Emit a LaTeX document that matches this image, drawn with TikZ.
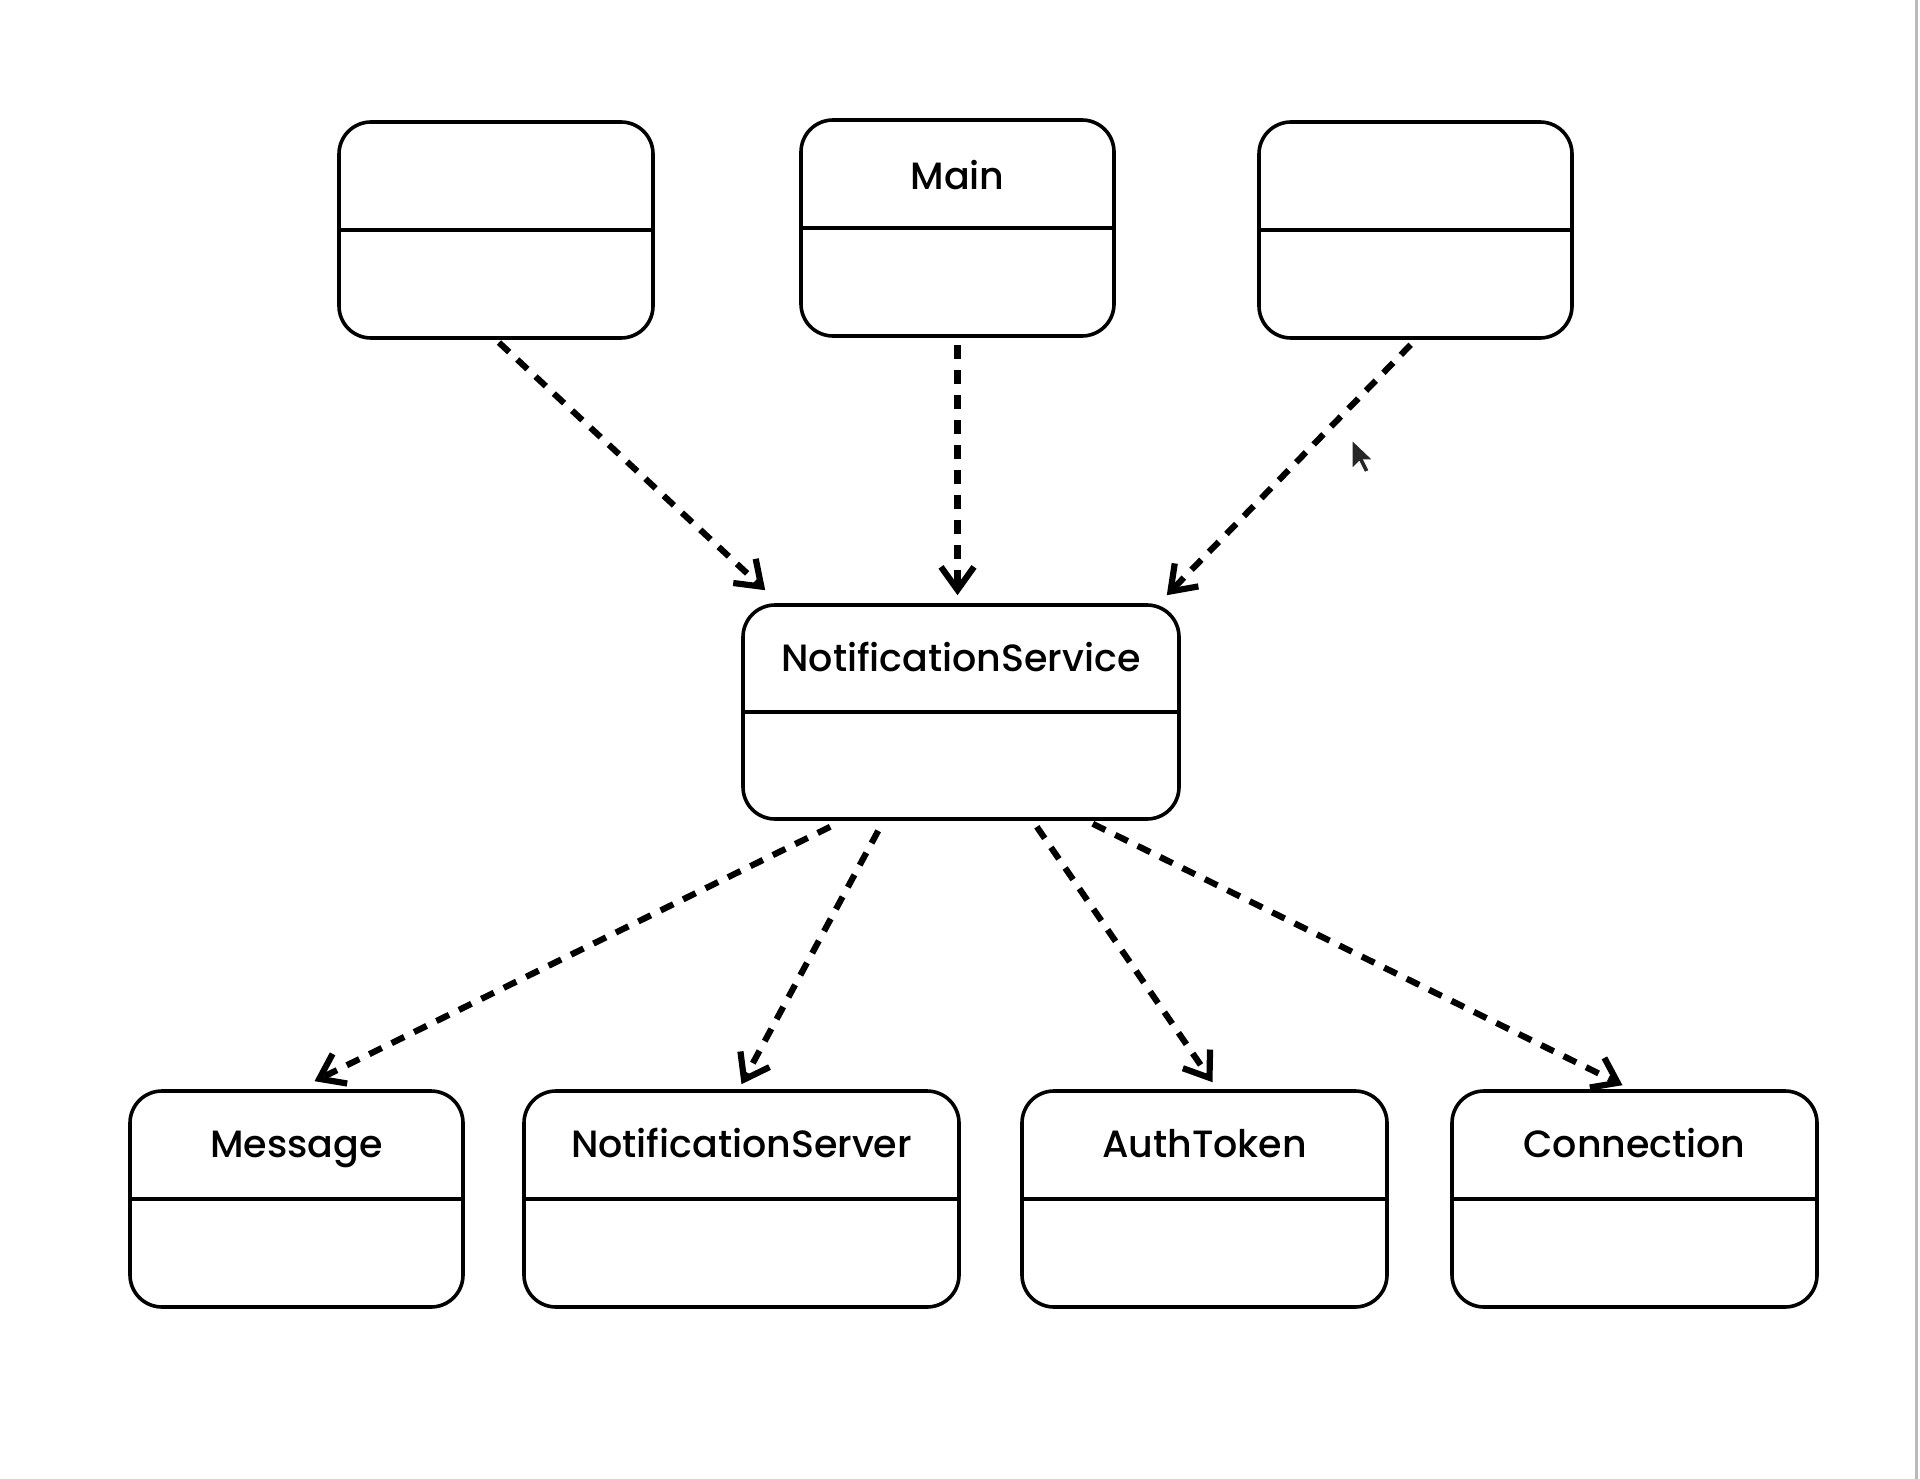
\documentclass[tikz,border=0pt]{standalone}
\usepackage{fontspec}
\setmainfont{Poppins}
\newfontfamily\classfont{Poppins Medium}
\usetikzlibrary{arrows.meta}

\begin{document}
\begin{tikzpicture}[x=1pt,y=-1pt,
    classbox/.style={draw, line width=3.6pt, rounded corners=32pt, minimum height=216pt, inner sep=0pt},
    classname/.style={anchor=base, font=\classfont\fontsize{38}{42}\selectfont},
    dep/.style={draw, line width=6.2pt, dash pattern=on 14pt off 11pt, -{Straight Barb[length=23pt,width=33pt]}}]
    \useasboundingbox (0,0) rectangle (1920,1479);
    \fill[white] (0,0) rectangle (1920,1479);
    \draw[line width=3pt, gray!55] (1916,0) -- (1916,1479);

    \node[classbox, minimum width=314pt] (left) at (496,230) {};
    \node[classbox, minimum width=313pt] (main) at (957.5,228) {};
    \node[classbox, minimum width=313pt] (right) at (1415.5,230) {};
    \node[classbox, minimum width=436pt, minimum height=214pt] (service) at (961,712) {};
    \node[classbox, minimum width=333pt] (message) at (296.5,1199) {};
    \node[classbox, minimum width=435pt] (server) at (741.5,1199) {};
    \node[classbox, minimum width=365pt] (token) at (1204.5,1199) {};
    \node[classbox, minimum width=365pt] (connection) at (1634.5,1199) {};

    \draw[line width=3.6pt] (left.west) -- (left.east);
    \draw[line width=3.6pt] (main.west) -- (main.east);
    \draw[line width=3.6pt] (right.west) -- (right.east);
    \draw[line width=3.6pt] (service.west) -- (service.east);
    \draw[line width=3.6pt] (message.west) -- (message.east);
    \draw[line width=3.6pt] (server.west) -- (server.east);
    \draw[line width=3.6pt] (token.west) -- (token.east);
    \draw[line width=3.6pt] (connection.west) -- (connection.east);

    \node[classname] (mainName) at ([yshift=38pt]main.center) {Main};
    \node[classname] (serviceName) at ([yshift=41pt]service.center) {NotificationService};
    \node[classname] (messageName) at ([yshift=42pt]message.center) {Message};
    \node[classname] (serverName) at ([yshift=42pt]server.center) {NotificationServer};
    \node[classname] (tokenName) at ([yshift=42pt]token.center) {AuthToken};
    \node[classname] (connectionName) at ([yshift=42pt]connection.center) {Connection};

    \draw[dep, shorten <=4pt] (left.south) -- ([xshift=24pt,yshift=13pt]service.north west);
    \draw[dep, shorten <=7pt, shorten >=8pt] (main.south) -- (main.south |- service.north);
    \draw[dep, shorten <=7pt] (right.south) -- ([xshift=-14pt,yshift=8pt]service.north east);
    \draw[dep] ([xshift=89pt,yshift=-6pt]service.south west) -- ([xshift=18pt,yshift=8pt]message.north);
    \draw[dep] ([xshift=137pt,yshift=-10pt]service.south west) -- ([yshift=5pt]server.north);
    \draw[dep] ([xshift=-144pt,yshift=-6pt]service.south east) -- ([xshift=8pt,yshift=7pt]token.north);
    \draw[dep] ([xshift=-88pt,yshift=-3pt]service.south east) -- ([xshift=-12pt,yshift=4pt]connection.north);

    \fill[black!85, draw=white, line width=1pt, shift={(1352,440)}, scale=1.8]
        (0,0) -- (0,16) -- (4,12) -- (7,18) -- (9.5,17) -- (6.5,11) -- (11.5,11) -- cycle;
\end{tikzpicture}
\end{document}
